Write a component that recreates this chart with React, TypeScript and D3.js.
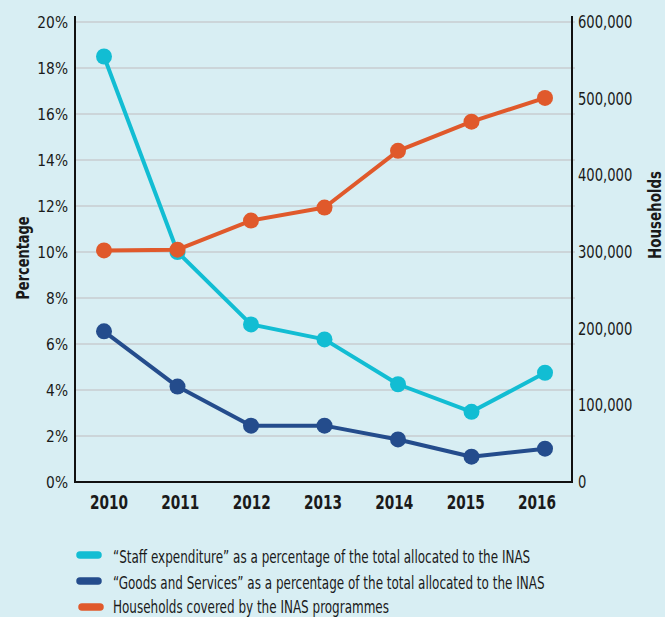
import React from "react";
import * as d3 from "d3";

const years = ["2010", "2011", "2012", "2013", "2014", "2015", "2016"];
const staffPct = [18.5, 10.0, 6.85, 6.2, 4.25, 3.05, 4.75];
const goodsPct = [6.55, 4.15, 2.45, 2.45, 1.85, 1.1, 1.45];
const households = [302000, 303000, 341000, 358000, 432000, 470000, 501000];
const leftTicks = [0, 2, 4, 6, 8, 10, 12, 14, 16, 18, 20];
const rightTicks = [0, 100000, 200000, 300000, 400000, 500000, 600000];
const legendLabels = [
  "\u201cStaff expenditure\u201d as a percentage of the total allocated to the INAS",
  "\u201cGoods and Services\u201d as a percentage of the total allocated to the INAS",
  "Households covered by the INAS programmes",
];

const W = 665;
const H = 617;
const FONT = "'DejaVu Sans Condensed', 'DejaVu Sans', sans-serif";
const C_STAFF = "#12bdd3";
const C_GOODS = "#244c8c";
const C_HH = "#e0592b";
const INK = "#1a1a1a";

function CText(props: {
  x: number; y: number; sx: number; size: number; anchor?: string; bold?: boolean; rotate?: number; children: React.ReactNode;
}) {
  const { x, y, sx, size, anchor = "start", bold = false, rotate = 0, children } = props;
  return (
    <g transform={`translate(${x},${y}) rotate(${rotate}) scale(${sx},1)`}>
      <text x={0} y={0} textAnchor={anchor as any} fontSize={size} fontWeight={bold ? "bold" : "normal"} fill={INK}>
        {children}
      </text>
    </g>
  );
}

export default function App() {
  const left = 75, right = 572, top = 22, bottom = 482;
  const x = d3.scalePoint<string>().domain(years).range([104, 545]);
  const xLab = d3.scalePoint<string>().domain(years).range([109, 537]);
  const yL = d3.scaleLinear().domain([0, 20]).range([bottom, top]);
  const yR = d3.scaleLinear().domain([0, 600000]).range([bottom, top]);
  const lineL = d3.line<number>().x((_, i) => x(years[i])!).y((d) => yL(d));
  const lineR = d3.line<number>().x((_, i) => x(years[i])!).y((d) => yR(d));
  const fmt = d3.format(",");
  const series = [
    { data: staffPct, color: C_STAFF, path: lineL(staffPct)!, y: yL },
    { data: goodsPct, color: C_GOODS, path: lineL(goodsPct)!, y: yL },
    { data: households, color: C_HH, path: lineR(households)!, y: yR },
  ];
  const legendBase = [563, 589, 613];
  const legendSwatch = [
    { y: 555, x1: 80, x2: 98 },
    { y: 581, x1: 80, x2: 98 },
    { y: 607, x1: 82, x2: 100 },
  ];
  return (
    <svg width={W} height={H} style={{ position: "absolute", left: 0, top: 0, fontFamily: FONT }}>
      <rect width={W} height={H} fill="#d8eef3" />
      {leftTicks.filter((t) => t > 0).map((t) => (
        <line key={t} x1={left} x2={right + 3} y1={yL(t)} y2={yL(t)} stroke="#c9cdd0" strokeWidth={1.5} />
      ))}
      {leftTicks.map((t) => (
        <CText key={t} x={68} y={yL(t) + 6} sx={0.93} size={16.5} anchor="end">{t}%</CText>
      ))}
      {rightTicks.map((t) => (
        <CText key={t} x={578} y={yR(t) + 6} sx={0.86} size={17}>{fmt(t)}</CText>
      ))}
      {years.map((yr) => (
        <CText key={yr} x={xLab(yr)!} y={509} sx={0.8} size={19} anchor="middle" bold>{yr}</CText>
      ))}
      <CText x={29} y={258} sx={0.8} size={18} anchor="middle" bold rotate={-90}>Percentage</CText>
      <CText x={661} y={215} sx={0.83} size={18} anchor="middle" bold rotate={-90}>Households</CText>
      {series.map((s, k) => (
        <g key={k}>
          <path d={s.path} fill="none" stroke={s.color} strokeWidth={4} strokeLinejoin="round" />
          {s.data.map((d, i) => (
            <circle key={i} cx={x(years[i])} cy={s.y(d)} r={8} fill={s.color} />
          ))}
        </g>
      ))}
      <line x1={left} x2={left} y1={16} y2={bottom + 1} stroke="#111" strokeWidth={2} />
      <line x1={right} x2={right} y1={16} y2={bottom + 1} stroke="#111" strokeWidth={2} />
      <line x1={left - 1} x2={right + 1} y1={bottom} y2={bottom} stroke="#111" strokeWidth={2} />
      {legendLabels.map((lab, i) => {
        const col = [C_STAFF, C_GOODS, C_HH][i];
        const sw = legendSwatch[i];
        return (
          <g key={i}>
            <line x1={sw.x1} x2={sw.x2} y1={sw.y} y2={sw.y} stroke={col} strokeWidth={7.5} strokeLinecap="round" />
            <CText x={113} y={legendBase[i]} sx={0.785} size={17}>{lab}</CText>
          </g>
        );
      })}
    </svg>
  );
}
